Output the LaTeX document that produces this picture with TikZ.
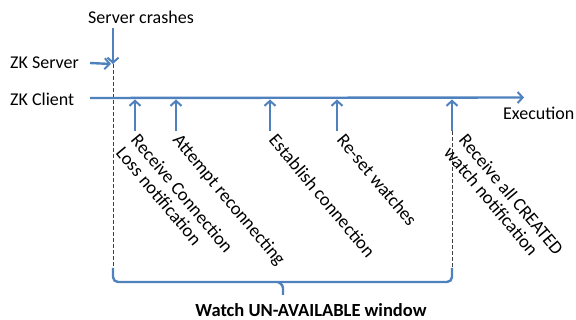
\documentclass[tikz,border=0pt]{standalone}
\usepackage{fontspec}
\setmainfont{Carlito}
\usetikzlibrary{arrows.meta}
\definecolor{obl}{RGB}{79,129,189}
\begin{document}
\begin{tikzpicture}[x=1pt,y=-1pt,
  lbl/.style={font=\fontsize{18}{19}\selectfont, inner sep=1pt},
  evt/.style={lbl, font=\fontsize{18.5}{19.5}\selectfont, rotate=-50, anchor=north west, align=left},
  blu/.style={draw=obl, line width=2.4pt},
  arr/.style={blu, -{Straight Barb[length=5pt,width=11pt,line width=2pt]}},
  dsh/.style={draw=black!75, line width=0.8pt, dash pattern=on 4pt off 2pt}]
\useasboundingbox (0,0) rectangle (576,320);
% labels
\node[lbl] (crash) at (141,17) {Server crashes};
\node[lbl, anchor=west] (srv) at (9,63) {ZK Server};
\node[lbl, anchor=west] (cli) at (9,99) {ZK Client};
\node[lbl, anchor=west] (exe) at (502,113) {Execution};
% coordinates
\coordinate (crtop) at (113,28);
\coordinate (crpt) at (113,64);
\coordinate (srvs) at (90,63);
\coordinate (clis) at (90,98);
\coordinate (clie) at (524,97.5);
\foreach \n/\x in {a/135,b/176,c/270,d/337,e/452}{
  \coordinate (\n top) at (\x,99.5);
  \coordinate (\n bot) at (\x,131);
}
% dashed lines
\coordinate (dl) at (113,268);
\coordinate (dr) at (452,268);
\draw[dsh] (crpt) -- (dl);
\draw[dsh] (ebot) -- (dr);
% timeline
\draw[arr] (clis) -- (clie);
\draw[arr] (crtop) -- (crpt);
\draw[arr] (srvs) -- ([xshift=-2pt]crpt);
\foreach \n in {a,b,c,d,e}{\draw[arr] (\n bot) -- (\n top);}
% event labels
\node[evt] (ea) at ([xshift=5pt]abot) {Receive Connection\\Loss notification};
\node[evt] (eb) at ([xshift=6pt]bbot) {Attempt reconnecting};
\node[evt] (ec) at ([xshift=8pt]cbot) {Establish connection};
\node[evt] (ed) at ([xshift=9pt]dbot) {Re-set watches};
\node[evt] (ee) at ([xshift=16pt]ebot) {Receive all CREATED\\watch notification};
% brace
\coordinate (bm) at (283,282);
\coordinate (bt) at (283,295);
\draw[blu, rounded corners=5pt] (dl) -- (113,282) -- (bm) -- (452,282) -- (dr);
\draw[blu, rounded corners=3pt] (278,282) -- (283,285) -- (bt);
\node[font=\fontsize{18.5}{19}\selectfont\bfseries] (win) at (311,310) {Watch UN-AVAILABLE window};
\end{tikzpicture}
\end{document}
